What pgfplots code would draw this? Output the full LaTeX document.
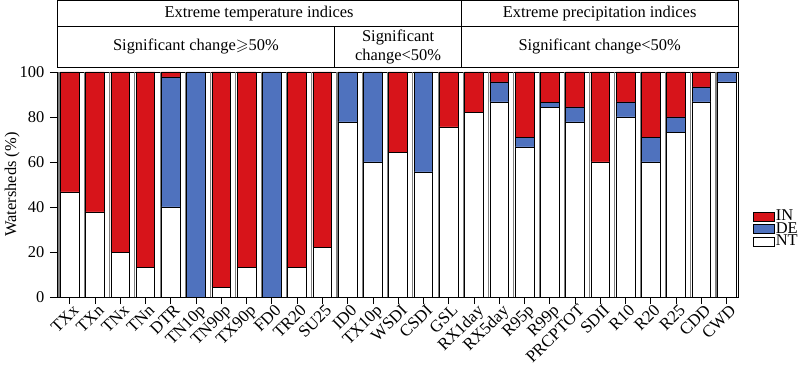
\documentclass[border=0pt]{standalone}
\usepackage{pgfplots}
\pgfplotsset{compat=1.18}
\usepackage{pgfplotstable}
\usepackage{amssymb}
\usepackage{fontspec}
\setmainfont{Liberation Serif}
\definecolor{cIN}{RGB}{215,20,26}
\definecolor{cDE}{RGB}{79,114,190}

\pgfplotstableread{
name NT DE IN
TXx 46.67 0 53.33
TXn 37.78 0 62.22
TNx 20 0 80
TNn 13.33 0 86.67
DTR 40 57.78 2.22
TN10p 0 100 0
TN90p 4.44 0 95.56
TX90p 13.33 0 86.67
FD0 0 100 0
TR20 13.33 0 86.67
SU25 22.22 0 77.78
ID0 77.78 22.22 0
TX10p 60 40 0
WSDI 64.44 0 35.56
CSDI 55.56 44.44 0
GSL 75.56 0 24.44
RX1day 82.22 0 17.78
RX5day 86.67 8.89 4.44
R95p 66.67 4.44 28.89
R99p 84.44 2.22 13.33
PRCPTOT 77.78 6.67 15.56
SDII 60 0 40
R10 80 6.67 13.33
R20 60 11.11 28.89
R25 73.33 6.67 20
CDD 86.67 6.67 6.67
CWD 95.56 4.44 0
}\data

\begin{document}
\fontsize{16.5}{19}\selectfont
\begin{tikzpicture}
\begin{axis}[name=ax, scale only axis, width=681bp, height=225bp,
  ybar stacked, bar width=0.74,
  xmin=-0.5, xmax=26.45, ymin=0, ymax=100,
  xtick=data, xticklabels from table={\data}{name},
  xticklabel style={rotate=45, anchor=north east, inner sep=1bp, xshift=3bp, yshift=0bp, font=\fontsize{17}{19}\selectfont},
  extra x ticks={-0.42,0.58,...,25.58,26.4},
  extra x tick labels={},
  extra x tick style={grid=major, major tick length=0pt,
    major grid style={draw=black!50, line width=1.1bp}},
  ytick={0,20,...,100},
  tick align=outside, xtick pos=left, ytick pos=left,
  major tick length=7bp, tick style={black, line width=0.7bp},
  axis line style={line width=0.8bp},
  ylabel={Watersheds (\%)},
  ylabel style={at={(rel axis cs:-0.066,0.5)}, anchor=center},
  /pgf/number format/assume math mode=true,
  clip=false,
  reverse legend,
  legend cell align=left,
  legend style={at={(rel axis cs:1.0176,0.395)}, anchor=north west, draw=none, fill=none,
    row sep=0pt, nodes={inner sep=1bp, text height=9.5bp, text depth=1bp}},
  legend image code/.code={\draw[#1, line width=0.6bp] (0bp,-4.5bp) rectangle (21bp,4.5bp);},
  every axis plot/.append style={draw=black, line width=0.6bp},
]
\addplot[fill=white] table[x expr=\coordindex, y=NT] {\data};
\addplot[fill=cDE] table[x expr=\coordindex, y=DE] {\data};
\addplot[fill=cIN] table[x expr=\coordindex, y=IN] {\data};
\legend{NT,DE,IN}
% header boxes
\draw[line width=0.8bp] (rel axis cs:0,1.0222) rectangle (rel axis cs:1,1.317);
\draw[line width=0.8bp] (rel axis cs:0,1.2044) -- (rel axis cs:1,1.2044);
\draw[line width=0.8bp] (rel axis cs:0.5937,1.0222) -- (rel axis cs:0.5937,1.317);
\draw[line width=0.8bp] (rel axis cs:0.408,1.0222) -- (rel axis cs:0.408,1.2044);
\node at (rel axis cs:0.2968,1.261) {Extreme temperature indices};
\node at (rel axis cs:0.7968,1.261) {Extreme precipitation indices};
\node at (rel axis cs:0.204,1.113) {Significant change$\geqslant$50\%};
\node[align=center, font=\fontsize{16.5}{19}\selectfont] at (rel axis cs:0.5009,1.113) {Significant\\change<50\%};
\node at (rel axis cs:0.7968,1.113) {Significant change<50\%};
\end{axis}
\pgfresetboundingbox
\path[use as bounding box] ([xshift=-57bp,yshift=-72bp]ax.south west) rectangle ([xshift=62bp,yshift=72bp]ax.north east);
\end{tikzpicture}
\end{document}
